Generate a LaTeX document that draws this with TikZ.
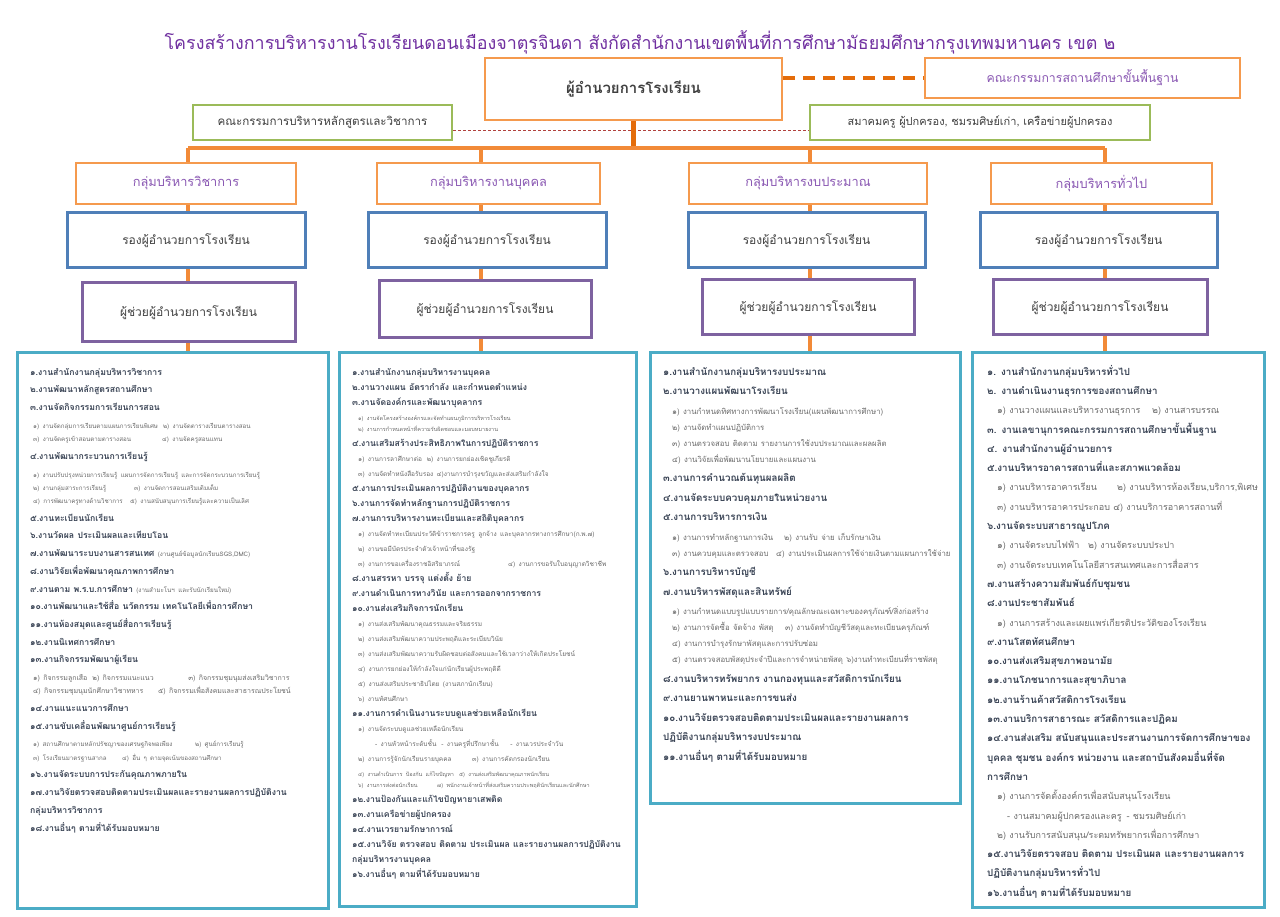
\documentclass[tikz,border=0pt]{standalone}
\usepackage{fontspec}
\setmainfont[Script=Thai]{Loma}
\usepackage{tikz}
\usetikzlibrary{positioning}

\definecolor{titlepurple}{HTML}{7030A0}
\definecolor{grouppurple}{HTML}{8A58B3}
\definecolor{boxorange}{HTML}{F59A4E}
\definecolor{barorange}{HTML}{F28A38}
\definecolor{lineorange}{HTML}{E46C0A}
\definecolor{boxgreen}{HTML}{9BBB59}
\definecolor{boxblue}{HTML}{4F7FB8}
\definecolor{boxpurple}{HTML}{7E62A0}
\definecolor{boxteal}{HTML}{4BACC6}
\definecolor{dashred}{HTML}{B0413E}
\definecolor{boxtext}{HTML}{404040}
\definecolor{maintext}{HTML}{3A4455}
\definecolor{subtext}{HTML}{6A6A6A}

\tikzstyle{titletext} = [inner sep=0pt,text=titlepurple,font=\fontsize{17.9}{21}\selectfont]
\tikzstyle{orangebox} = [draw=boxorange,line width=2.6pt,fill=white,text=grouppurple,font=\fontsize{12.8}{15}\selectfont]
\tikzstyle{greenbox} = [draw=boxgreen,line width=2.6pt,fill=white,text=boxtext,font=\fontsize{11.6}{14}\selectfont]
\tikzstyle{bluebox} = [draw=boxblue,line width=3pt,fill=white,text=boxtext,font=\fontsize{12}{14}\selectfont]
\tikzstyle{violetbox} = [draw=boxpurple,line width=3pt,fill=white,text=boxtext,font=\fontsize{12}{14}\selectfont]
\tikzstyle{listbox} = [draw=boxteal,line width=3pt,fill=white]
\tikzstyle{listtext} = [anchor=north west,inner sep=0pt,text width=420pt]
\tikzstyle{barline} = [draw=barorange,line width=3.5pt]
\tikzstyle{dashlink} = [draw=lineorange,line width=4pt,dash pattern=on 12pt off 8pt]
\tikzstyle{redlink} = [draw=dashred,line width=1pt,dash pattern=on 3pt off 2pt]

% sizes of one list: main size, main skip, sub size, sub skip, tiny size, tiny skip, indent
\newcommand\listsizes[7]{\parindent=0pt\parskip=0pt\def\mainfs{#1}\def\mainbs{#2}\def\subfs{#3}\def\subbs{#4}\def\tinyfs{#5}\def\tinybs{#6}\def\subind{#7pt}}
\newcommand\mainline[1]{{\fontsize{\mainfs}{\mainbs}\selectfont\bfseries\leavevmode\color{maintext}#1\par}}
\newcommand\subblock[2][\subfs]{\vspace{\dimexpr\mainbs pt-\subbs pt\relax}{\fontsize{#1}{\subbs}\selectfont\leftskip=\subind\leavevmode\color{subtext}#2\par}}
\newcommand\tinyblock[1]{\vspace{\dimexpr\mainbs pt-\tinybs pt\relax}{\fontsize{\tinyfs}{\tinybs}\selectfont\leftskip=\subind\leavevmode\color{subtext}#1\par}}
\newcommand\aside[1]{{\mdseries\fontsize{\subfs}{\mainbs}\selectfont\color{subtext}#1}}
% first item of a line, padded to a tab width when it fits
\newsavebox\cellbox
\newcommand\subcell[2]{\sbox\cellbox{#2}\ifdim\wd\cellbox<\dimexpr#1pt-5pt\relax\makebox[#1pt][l]{\usebox\cellbox}\else\usebox\cellbox\hspace{5pt}\fi}

\begin{document}
\begin{tikzpicture}[x=1pt,y=-1pt]
	\useasboundingbox (0,0) rectangle (1280,917);

	%Nodes
	\node[titletext] (title) at (640,42) {โครงสร้างการบริหารงานโรงเรียนดอนเมืองจาตุรจินดา สังกัดสำนักงานเขตพื้นที่การศึกษามัธยมศึกษากรุงเทพมหานคร เขต ๒};
	\node[orangebox,minimum width=297,minimum height=62,text=boxtext,font=\fontsize{15}{18}\selectfont\bfseries] (dir) at (633.5,89) {ผู้อำนวยการโรงเรียน};
	\node[orangebox,minimum width=315,minimum height=40,font=\fontsize{12.3}{15}\selectfont] (board) at (1082.5,78) {คณะกรรมการสถานศึกษาขั้นพื้นฐาน};
	\node[greenbox,minimum width=259,minimum height=35] (acad) at (322.5,122.5) {คณะกรรมการบริหารหลักสูตรและวิชาการ};
	\node[greenbox,minimum width=340,minimum height=35,font=\fontsize{11}{13}\selectfont] (assoc) at (980,122.5) {สมาคมครู ผู้ปกครอง, ชมรมศิษย์เก่า, เครือข่ายผู้ปกครอง};

	\coordinate (v1) at (188,148);
	\coordinate (v2) at (481,148);
	\coordinate (v3) at (810,148);
	\coordinate (v4) at (1105,148);

	\node[orangebox,minimum width=220,minimum height=41] (g1) at (186,183.5) {กลุ่มบริหารวิชาการ};
	\node[orangebox,minimum width=223,minimum height=41] (g2) at (488.5,183.5) {กลุ่มบริหารงานบุคคล};
	\node[orangebox,minimum width=238,minimum height=41] (g3) at (808,183.5) {กลุ่มบริหารงบประมาณ};
	\node[orangebox,minimum width=221,minimum height=41] (g4) at (1101.5,183.5) {กลุ่มบริหารทั่วไป};

	\node[bluebox,minimum width=238,minimum height=55] (b1) at (186,240.5) {รองผู้อำนวยการโรงเรียน};
	\node[bluebox,minimum width=238,minimum height=55] (b2) at (487,240.5) {รองผู้อำนวยการโรงเรียน};
	\node[bluebox,minimum width=237,minimum height=55] (b3) at (806.5,240.5) {รองผู้อำนวยการโรงเรียน};
	\node[bluebox,minimum width=237,minimum height=55] (b4) at (1098.5,240.5) {รองผู้อำนวยการโรงเรียน};

	\node[violetbox,minimum width=213,minimum height=59] (p1) at (188.5,312.5) {ผู้ช่วยผู้อำนวยการโรงเรียน};
	\node[violetbox,minimum width=212,minimum height=57] (p2) at (485,309.5) {ผู้ช่วยผู้อำนวยการโรงเรียน};
	\node[violetbox,minimum width=212,minimum height=55] (p3) at (808,307.5) {ผู้ช่วยผู้อำนวยการโรงเรียน};
	\node[violetbox,minimum width=214,minimum height=55] (p4) at (1100,307.5) {ผู้ช่วยผู้อำนวยการโรงเรียน};

	\node[listbox,minimum width=311,minimum height=555] (c1) at (172.5,630.5) {};
	\node[listbox,minimum width=297,minimum height=553] (c2) at (487.5,629.5) {};
	\node[listbox,minimum width=310,minimum height=450] (c3) at (805,578) {};
	\node[listbox,minimum width=292,minimum height=554] (c4) at (1118,630) {};

	%Lines
	\draw[redlink] ([yshift=-8.5pt]acad.east) -- ([yshift=-8.5pt]assoc.west);
	\draw[dashlink] (dir.east |- board.west) -- (board.west);
	\draw[draw=lineorange,line width=4.5pt] (dir.south) -- (dir.south |- v1);
	\draw[barline] (v1) -- (v4);
	\draw[barline] (v1) -- (v1 |- g1.north);
	\draw[barline] (v2) -- (v2 |- g2.north);
	\draw[barline] (v3) -- (v3 |- g3.north);
	\draw[barline] (v4) -- (v4 |- g4.north);
	\draw[barline] (v1 |- g1.south) -- (v1 |- b1.north);
	\draw[barline] (v2 |- g2.south) -- (v2 |- b2.north);
	\draw[barline] (v3 |- g3.south) -- (v3 |- b3.north);
	\draw[barline] (v4 |- g4.south) -- (v4 |- b4.north);
	\draw[barline] (v1 |- b1.south) -- (v1 |- p1.north);
	\draw[barline] (v2 |- b2.south) -- (v2 |- p2.north);
	\draw[barline] (v3 |- b3.south) -- (v3 |- p3.north);
	\draw[barline] (v4 |- b4.south) -- (v4 |- p4.north);
	\draw[barline] (v1 |- p1.south) -- (v1 |- c1.north);
	\draw[barline] (v2 |- p2.south) -- (v2 |- c2.north);
	\draw[barline] (v3 |- p3.south) -- (v3 |- c3.north);
	\draw[barline] (v4 |- p4.south) -- (v4 |- c4.north);

	%Lists
	\node[listtext] (t1) at (30,363) {\listsizes{8.7}{17.7}{6.2}{13.3}{6}{10}{3}%
		\mainline{\rule{0pt}{12pt}๑.งานสำนักงานกลุ่มบริหารวิชาการ}
		\mainline{๒.งานพัฒนาหลักสูตรสถานศึกษา}
		\mainline{๓.งานจัดกิจกรรมการเรียนการสอน}
		\subblock{\subcell{104}{๑) งานจัดกลุ่มการเรียนตามแผนการเรียนพิเศษ}๒) งานจัดตารางเรียนตารางสอน\\
			\subcell{129}{๓) งานจัดครูเข้าสอนตามตารางสอน}๔) งานจัดครูสอนแทน}
		\mainline{๔.งานพัฒนากระบวนการเรียนรู้}
		\subblock{๑) งานปรับปรุงหน่วยการเรียนรู้ แผนการจัดการเรียนรู้ และการจัดกระบวนการเรียนรู้\\
			\subcell{101}{๒) งานกลุ่มสาระการเรียนรู้}๓) งานจัดการสอนเสริมเติมเต็ม\\
			\subcell{97}{๔) การพัฒนาครูทางด้านวิชาการ}๕) งานสนับสนุนการเรียนรู้และความเป็นเลิศ}
		\mainline{๕.งานทะเบียนนักเรียน}
		\mainline{๖.งานวัดผล ประเมินผลและเทียบโอน}
		\mainline{๗.งานพัฒนาระบบงานสารสนเทศ \aside{(งานศูนย์ข้อมูลนักเรียนSGS,DMC)}}
		\mainline{๘.งานวิจัยเพื่อพัฒนาคุณภาพการศึกษา}
		\mainline{๙.งานตาม พ.ร.บ.การศึกษา \aside{(งานสำมะโนฯ และรับนักเรียนใหม่)}}
		\mainline{๑๐.งานพัฒนาและใช้สื่อ นวัตกรรม เทคโนโลยีเพื่อการศึกษา}
		\mainline{๑๑.งานห้องสมุดและศูนย์สื่อการเรียนรู้}
		\mainline{๑๒.งานนิเทศการศึกษา}
		\mainline{๑๓.งานกิจกรรมพัฒนาผู้เรียน}
		\subblock[7]{\subcell{48}{๑) กิจกรรมลูกเสือ}\subcell{96}{๒) กิจกรรมแนะแนว}๓) กิจกรรมชุมนุมส่งเสริมวิชาการ\\
			\subcell{125}{๔) กิจกรรมชุมนุมนักศึกษาวิชาทหาร}๕) กิจกรรมเพื่อสังคมและสาธารณประโยชน์}
		\mainline{๑๔.งานแนะแนวการศึกษา}
		\mainline{๑๕.งานขับเคลื่อนพัฒนาศูนย์การเรียนรู้}
		\subblock{\subcell{162}{๑) สถานศึกษาตามหลักปรัชญาของเศรษฐกิจพอเพียง}๒) ศูนย์การเรียนรู้\\
			\subcell{89}{๓) โรงเรียนมาตรฐานสากล}๔) อื่น ๆ ตามจุดเน้นของสถานศึกษา}
		\mainline{๑๖.งานจัดระบบการประกันคุณภาพภายใน}
		\mainline{๑๗.งานวิจัยตรวจสอบติดตามประเมินผลและรายงานผลการปฏิบัติงาน}
		\mainline{กลุ่มบริหารวิชาการ}
		\mainline{๑๘.งานอื่นๆ ตามที่ได้รับมอบหมาย}};

	\node[listtext] (t2) at (352,363) {\listsizes{8.65}{15}{6.5}{15}{5.5}{11}{6}%
		\mainline{\rule{0pt}{12pt}๑.งานสำนักงานกลุ่มบริหารงานบุคคล}
		\mainline{๒.งานวางแผน อัตรากำลัง และกำหนดตำแหน่ง}
		\mainline{๓.งานจัดองค์กรและพัฒนาบุคลากร}
		\tinyblock{๑) งานจัดโครงสร้างองค์กรและจัดทำแผนภูมิการบริหารโรงเรียน\\
			๒) งานการกำหนดหน้าที่ความรับผิดชอบและมอบหมายงาน}
		\mainline{๔.งานเสริมสร้างประสิทธิภาพในการปฏิบัติราชการ}
		\subblock{\subcell{61}{๑) งานการลาศึกษาต่อ}๒) งานการยกย่องเชิดชูเกียรติ\\
			๓) งานจัดทำหนังสือรับรอง ๔)งานการบำรุงขวัญและส่งเสริมกำลังใจ}
		\mainline{๕.งานการประเมินผลการปฏิบัติงานของบุคลากร}
		\mainline{๖.งานการจัดทำหลักฐานการปฏิบัติราชการ}
		\mainline{๗.งานการบริหารงานทะเบียนและสถิติบุคลากร}
		\subblock{๑) งานจัดทำทะเบียนประวัติข้าราชการครู ลูกจ้าง และบุคลากรทางการศึกษา(ก.พ.๗)\\
			๒) งานขอมีบัตรประจำตัวเจ้าหน้าที่ของรัฐ\\
			\subcell{150}{๓) งานการขอเครื่องราชอิสริยาภรณ์}๔) งานการขอรับใบอนุญาตวิชาชีพ}
		\mainline{๘.งานสรรหา บรรจุ แต่งตั้ง ย้าย}
		\mainline{๙.งานดำเนินการทางวินัย และการออกจากราชการ}
		\mainline{๑๐.งานส่งเสริมกิจการนักเรียน}
		\subblock{๑) งานส่งเสริมพัฒนาคุณธรรมและจริยธรรม\\
			๒) งานส่งเสริมพัฒนาความประพฤติและระเบียบวินัย\\
			๓) งานส่งเสริมพัฒนาความรับผิดชอบต่อสังคมและใช้เวลาว่างให้เกิดประโยชน์\\
			๔) งานการยกย่องให้กำลังใจแก่นักเรียนผู้ประพฤติดี\\
			๕) งานส่งเสริมประชาธิปไตย (งานสภานักเรียน)\\
			๖) งานทัศนศึกษา}
		\mainline{๑๑.งานการดำเนินงานระบบดูแลช่วยเหลือนักเรียน}
		\subblock{๑) งานจัดระบบดูแลช่วยเหลือนักเรียน\\
			\hspace*{17pt}\subcell{61}{- งานหัวหน้าระดับชั้น}\subcell{69}{- งานครูที่ปรึกษาชั้น}- งานเวรประจำวัน\\
			\subcell{114}{๒) งานการรู้จักนักเรียนรายบุคคล}๓) งานการคัดกรองนักเรียน}
		\tinyblock{\subcell{89}{๔) งานดำเนินการ ป้องกัน แก้ไขปัญหา}๕) งานส่งเสริมพัฒนาคุณภาพนักเรียน\\
			\subcell{79}{๖) งานการส่งต่อนักเรียน}๗) พนักงานเจ้าหน้าที่ส่งเสริมความประพฤตินักเรียนและนักศึกษา}
		\mainline{๑๒.งานป้องกันและแก้ไขปัญหายาเสพติด}
		\mainline{๑๓.งานเครือข่ายผู้ปกครอง}
		\mainline{๑๔.งานเวรยามรักษาการณ์}
		\mainline{๑๕.งานวิจัย ตรวจสอบ ติดตาม ประเมินผล และรายงานผลการปฏิบัติงาน}
		\mainline{กลุ่มบริหารงานบุคคล}
		\mainline{๑๖.งานอื่นๆ ตามที่ได้รับมอบหมาย}};

	\node[listtext] (t3) at (663,363) {\listsizes{9.8}{19.5}{7.8}{16}{6}{10}{9}%
		\mainline{\rule{0pt}{12pt}๑.งานสำนักงานกลุ่มบริหารงบประมาณ}
		\mainline{๒.งานวางแผนพัฒนาโรงเรียน}
		\subblock{๑) งานกำหนดทิศทางการพัฒนาโรงเรียน(แผนพัฒนาการศึกษา)\\
			๒) งานจัดทำแผนปฏิบัติการ\\
			๓) งานตรวจสอบ ติดตาม รายงานการใช้งบประมาณและผลผลิต\\
			๔) งานวิจัยเพื่อพัฒนานโยบายและแผนงาน}
		\mainline{๓.งานการคำนวณต้นทุนผลผลิต}
		\mainline{๔.งานจัดระบบควบคุมภายในหน่วยงาน}
		\mainline{๕.งานการบริหารการเงิน}
		\subblock{\subcell{112}{๑) งานการทำหลักฐานการเงิน}๒) งานรับ จ่าย เก็บรักษาเงิน\\
			\subcell{104}{๓) งานควบคุมและตรวจสอบ}๔) งานประเมินผลการใช้จ่ายเงินตามแผนการใช้จ่าย}
		\mainline{๖.งานการบริหารบัญชี}
		\mainline{๗.งานบริหารพัสดุและสินทรัพย์}
		\subblock{๑) งานกำหนดแบบรูปแบบรายการ/คุณลักษณะเฉพาะของครุภัณฑ์/สิ่งก่อสร้าง\\
			\subcell{113}{๒) งานการจัดซื้อ จัดจ้าง พัสดุ}๓) งานจัดทำบัญชีวัสดุและทะเบียนครุภัณฑ์\\
			๔) งานการบำรุงรักษาพัสดุและการปรับซ่อม\\
			๕) งานตรวจสอบพัสดุประจำปีและการจำหน่ายพัสดุ ๖)งานทำทะเบียนที่ราชพัสดุ}
		\mainline{๘.งานบริหารทรัพยากร งานกองทุนและสวัสดิการนักเรียน}
		\mainline{๙.งานยานพาหนะและการขนส่ง}
		\mainline{๑๐.งานวิจัยตรวจสอบติดตามประเมินผลและรายงานผลการ}
		\mainline{ปฏิบัติงานกลุ่มบริหารงบประมาณ}
		\mainline{๑๑.งานอื่นๆ ตามที่ได้รับมอบหมาย}};

	\node[listtext] (t4) at (987,363) {\listsizes{9.8}{19.3}{9}{19.3}{6}{10}{10}%
		\mainline{\rule{0pt}{12pt}๑. งานสำนักงานกลุ่มบริหารทั่วไป}
		\mainline{๒. งานดำเนินงานธุรการของสถานศึกษา}
		\subblock{\subcell{155}{๑) งานวางแผนและบริหารงานธุรการ}๒) งานสารบรรณ}
		\mainline{๓. งานเลขานุการคณะกรรมการสถานศึกษาขั้นพื้นฐาน}
		\mainline{๔. งานสำนักงานผู้อำนวยการ}
		\mainline{๕.งานบริหารอาคารสถานที่และสภาพแวดล้อม}
		\subblock{\subcell{120}{๑) งานบริหารอาคารเรียน}๒) งานบริหารห้องเรียน,บริการ,พิเศษ\\
			๓) งานบริหารอาคารประกอบ ๔) งานบริการอาคารสถานที่}
		\mainline{๖.งานจัดระบบสาธารณูปโภค}
		\subblock{\subcell{91}{๑) งานจัดระบบไฟฟ้า}๒) งานจัดระบบประปา\\
			๓) งานจัดระบบเทคโนโลยีสารสนเทศและการสื่อสาร}
		\mainline{๗.งานสร้างความสัมพันธ์กับชุมชน}
		\mainline{๘.งานประชาสัมพันธ์}
		\subblock{๑) งานการสร้างและเผยแพร่เกียรติประวัติของโรงเรียน}
		\mainline{๙.งานโสตทัศนศึกษา}
		\mainline{๑๐.งานส่งเสริมสุขภาพอนามัย}
		\mainline{๑๑.งานโภชนาการและสุขาภิบาล}
		\mainline{๑๒.งานร้านค้าสวัสดิการโรงเรียน}
		\mainline{๑๓.งานบริการสาธารณะ สวัสดิการและปฏิคม}
		\mainline{๑๔.งานส่งเสริม สนับสนุนและประสานงานการจัดการศึกษาของ}
		\mainline{บุคคล ชุมชน องค์กร หน่วยงาน และสถาบันสังคมอื่นที่จัด}
		\mainline{การศึกษา}
		\subblock{๑) งานการจัดตั้งองค์กรเพื่อสนับสนุนโรงเรียน\\
			\hspace*{10pt}\subcell{108}{- งานสมาคมผู้ปกครองและครู}- ชมรมศิษย์เก่า\\
			๒) งานรับการสนับสนุน/ระดมทรัพยากรเพื่อการศึกษา}
		\mainline{๑๕.งานวิจัยตรวจสอบ ติดตาม ประเมินผล และรายงานผลการ}
		\mainline{ปฏิบัติงานกลุ่มบริหารทั่วไป}
		\mainline{๑๖.งานอื่นๆ ตามที่ได้รับมอบหมาย}};
\end{tikzpicture}
\end{document}
